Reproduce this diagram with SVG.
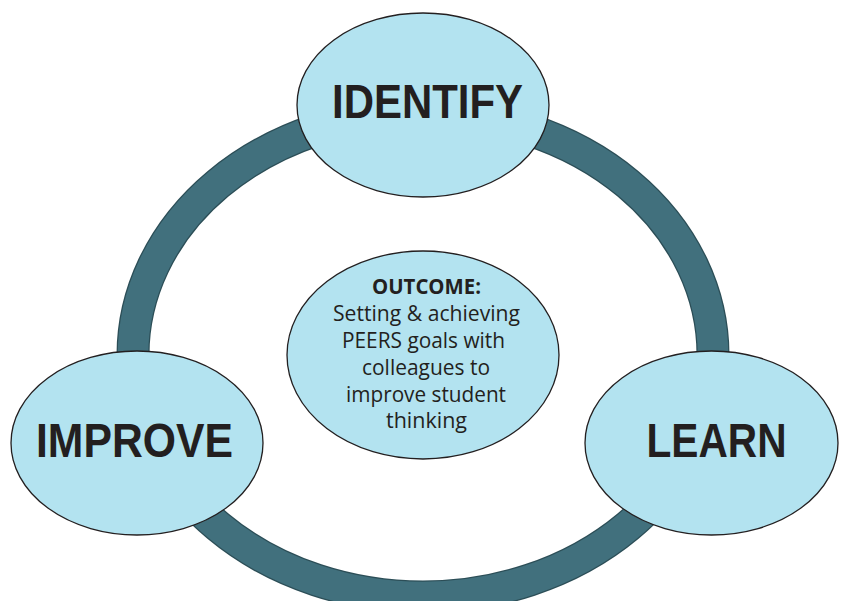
<svg xmlns="http://www.w3.org/2000/svg" width="846" height="601" viewBox="0 0 846 601">
  <style>
    .node { fill: #b3e3f0; stroke: #231f20; stroke-width: 1.3; }
    .label { font-family: "Liberation Sans", Arial, sans-serif; font-weight: bold; font-size: 48px; fill: #231f20; text-anchor: middle; }
    .body { font-family: "Open Sans", "Liberation Sans", sans-serif; font-size: 21px; fill: #231f20; text-anchor: middle; }
    .head { font-weight: bold; }
    .ring-edge { fill: none; stroke: #2c4e57; stroke-width: 33; }
    .ring { fill: none; stroke: #41707d; stroke-width: 30.5; }
  </style>
  <rect width="846" height="601" fill="#ffffff"/>

  <!-- cycle ring linking the three stages -->
  <g id="connectors">
    <ellipse class="ring-edge" cx="423" cy="355" rx="290" ry="242"/>
    <ellipse class="ring" cx="423" cy="355" rx="290" ry="242"/>
  </g>

  <g id="identify">
    <ellipse class="node" cx="423" cy="105" rx="126" ry="92"/>
    <text class="label" x="427.5" y="118" textLength="191" lengthAdjust="spacingAndGlyphs">IDENTIFY</text>
  </g>

  <g id="improve">
    <ellipse class="node" cx="137" cy="443" rx="126" ry="92"/>
    <text class="label" x="134.5" y="457" textLength="197" lengthAdjust="spacingAndGlyphs">IMPROVE</text>
  </g>

  <g id="learn">
    <ellipse class="node" cx="711.5" cy="443" rx="126.5" ry="92"/>
    <text class="label" x="716.5" y="457" textLength="140" lengthAdjust="spacingAndGlyphs">LEARN</text>
  </g>

  <g id="outcome">
    <ellipse class="node" cx="423" cy="355" rx="136" ry="104"/>
    <text class="body head" x="426.5" y="294" textLength="109" lengthAdjust="spacingAndGlyphs">OUTCOME:</text>
    <text class="body" x="426.5" y="321" textLength="187" lengthAdjust="spacingAndGlyphs">Setting &amp; achieving</text>
    <text class="body" x="423.5" y="348" textLength="163" lengthAdjust="spacingAndGlyphs">PEERS goals with</text>
    <text class="body" x="426" y="375" textLength="128" lengthAdjust="spacingAndGlyphs">colleagues to</text>
    <text class="body" x="426" y="402" textLength="160" lengthAdjust="spacingAndGlyphs">improve student</text>
    <text class="body" x="426.5" y="428" textLength="81" lengthAdjust="spacingAndGlyphs">thinking</text>
  </g>
</svg>
